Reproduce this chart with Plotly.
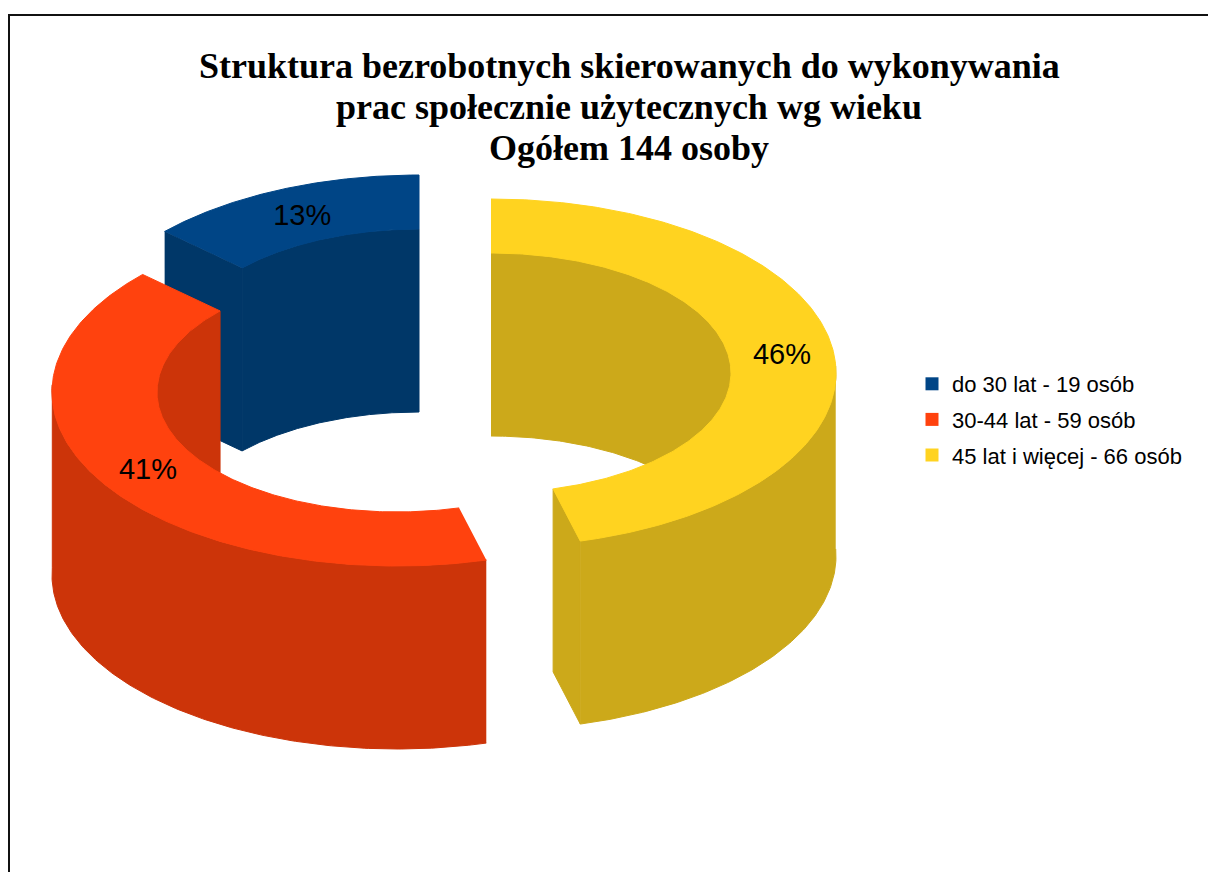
import numpy as np
import plotly.graph_objects as go

# --- data -------------------------------------------------------------
categories = ["do 30 lat - 19 osób", "30-44 lat - 59 osób", "45 lat i więcej - 66 osób"]
counts = [19, 59, 66]
percent_labels = ["13%", "41%", "46%"]
title_lines = ["Struktura bezrobotnych skierowanych do wykonywania",
               "prac społecznie użytecznych wg wieku",
               "Ogółem 144 osoby"]

# --- styles -----------------------------------------------------------
top_colors = ["#004586", "#FF420E", "#FFD320"]
side_colors = ["#003768", "#CC3409", "#CCA91A"]
RX_OUT, RY_OUT = 345, 174
RX_IN, RY_IN = 240, 120
DEPTH = 183
# centre of every (exploded) slice, in the pixel-sized plot coordinates
CENTRES = [(419, 349), (397, 392), (491, 373)]

# --- slice geometry derived from the values --------------------------
fractions = np.array(counts) / sum(counts)
# yellow starts at 12 o'clock and runs clockwise, then red, then blue
order = [2, 1, 0]
starts, ends = {}, {}
a = 0.0
for i in order:
    starts[i] = a
    a += fractions[i] * 2 * np.pi
    ends[i] = a


def ell(c, rx, ry, t, dz=0):
    return c[0] + rx * np.sin(t), c[1] - ry * np.cos(t) + dz


def poly(xs, ys, color, name):
    return go.Scatter(x=list(xs), y=list(ys), mode="lines", fill="toself",
                      fillcolor=color, line=dict(color=color, width=1),
                      hoverinfo="skip", showlegend=False, name=name)


def wall(c, rx, ry, t):
    x0, y0 = ell(c, rx, ry, t)
    x1, y1 = ell(c, rx, ry, t[::-1], DEPTH)
    return np.r_[x0, x1], np.r_[y0, y1]


def cut(c, t, color, name):
    ox, oy = ell(c, RX_OUT, RY_OUT, t)
    ix, iy = ell(c, RX_IN, RY_IN, t)
    return poly([ox, ix, ix, ox], [oy, iy, iy + DEPTH, oy + DEPTH], color, name)


fig = go.Figure()
draw_order = [0, 2, 1]
# the cut faces that look towards the viewer
visible_cut = {0: "start", 2: "end"}
for i in draw_order:
    c, t0, t1 = CENTRES[i], starts[i], ends[i]
    t = np.linspace(t0, t1, 240)
    # inner wall: only the far half of the hole is visible
    back = t[(np.cos(t) > 0)]
    if len(back):
        parts = np.split(back, np.where(np.diff(back) > 0.1)[0] + 1)
        for p in parts:
            fig.add_trace(poly(*wall(c, RX_IN, RY_IN, p), side_colors[i], categories[i]))
    if i in visible_cut:
        fig.add_trace(cut(c, t0 if visible_cut[i] == "start" else t1, side_colors[i], categories[i]))
    # outer wall: only the near half is visible
    front = t[np.cos(t) < 0.05]
    if len(front):
        fig.add_trace(poly(*wall(c, RX_OUT, RY_OUT, front), side_colors[i], categories[i]))
    # top face
    xo, yo = ell(c, RX_OUT, RY_OUT, t)
    xi, yi = ell(c, RX_IN, RY_IN, t[::-1])
    fig.add_trace(poly(np.r_[xo, xi], np.r_[yo, yi], top_colors[i], categories[i]))

# percent labels in the middle of every top face
lx, ly = [], []
for i in range(3):
    mid = (starts[i] + ends[i]) / 2
    x, y = ell(CENTRES[i], (RX_OUT + RX_IN) / 2, (RY_OUT + RY_IN) / 2, mid)
    lx.append(x + 1)
    ly.append(y + 3)
fig.add_trace(go.Scatter(x=lx, y=ly, mode="text", text=percent_labels,
                         textposition="middle center",
                         textfont=dict(family="Liberation Sans", size=29, color="#000000"),
                         hoverinfo="skip", showlegend=False))

# legend entries
for i, name in enumerate(categories):
    fig.add_trace(go.Scatter(x=[None], y=[None], mode="markers", name=name,
                             legendgroup=name,
                             marker=dict(symbol="square", size=13, color=top_colors[i])))

for k, line in enumerate(title_lines):
    fig.add_annotation(xref="x", yref="y", x=629, y=66 + 41 * k, showarrow=False,
                       text=line,
                       font=dict(family="Liberation Serif", size=36, color="#000000", weight="bold"))

fig.update_layout(
    width=1208, height=872, autosize=False,
    margin=dict(l=0, r=0, t=0, b=0),
    paper_bgcolor="#ffffff", plot_bgcolor="#ffffff",
    xaxis=dict(range=[0, 1208], visible=False, fixedrange=True),
    yaxis=dict(range=[872, 0], visible=False, fixedrange=True),
    legend=dict(x=912 / 1208, y=1 - 363 / 872, xanchor="left", yanchor="top",
                bgcolor="rgba(0,0,0,0)", borderwidth=0, traceorder="grouped",
                tracegroupgap=4, font=dict(family="Liberation Sans", size=22, color="#000000")),
    shapes=[
        dict(type="line", xref="paper", yref="paper", x0=9 / 1208, x1=9 / 1208, y0=0, y1=1 - 15 / 872,
             line=dict(color="#111111", width=2)),
        dict(type="line", xref="paper", yref="paper", x0=8 / 1208, x1=1, y0=1 - 15 / 872, y1=1 - 15 / 872,
             line=dict(color="#111111", width=2)),
    ],
)
fig.write_html("out.html", config=dict(displayModeBar=False),
               post_script="document.body.style.margin='0';")
